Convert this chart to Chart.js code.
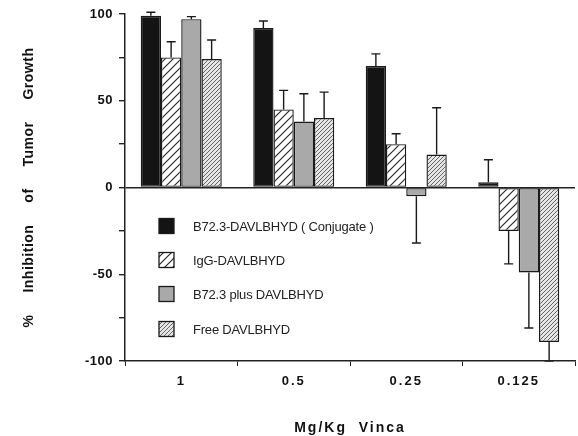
<!DOCTYPE html>
<html>
<head>
<meta charset="utf-8">
<script src="https://cdn.jsdelivr.net/npm/chart.js@4/dist/chart.umd.min.js"></script>
<style>
  html, body { margin: 0; padding: 0; background: #fff; }
  #wrap { width: 578px; height: 436px; }
</style>
</head>
<body>
<div id="wrap"><canvas id="vinca"></canvas></div>
<script>
// doses (Mg/Kg Vinca)
var doses = ["1", "0.5", "0.25", "0.125"];

var seriesNames = ["B72.3-DAVLBHYD ( Conjugate )", "IgG-DAVLBHYD", "B72.3 plus DAVLBHYD", "Free DAVLBHYD"];

// % inhibition of tumor growth
var conjugate    = [99, 92, 70, 3];
var conjugateErr = [2, 4, 7, 13];
var igg          = [75, 45, 25, -25];
var iggErr       = [9, 11, 6, 19];
var mixture      = [97, 38, -5, -49];
var mixtureErr   = [1.5, 16, 27, 32];
var free         = [74, 40, 19, -89];
var freeErr      = [11, 15, 27, 11];

var yTicks = [-100, -50, 0, 50, 100];

function hatch(bg, fg, size, lw) {
    var c = document.createElement("canvas");
    c.width = size; c.height = size;
    var x = c.getContext("2d");
    x.fillStyle = bg;
    x.fillRect(0, 0, size, size);
    x.strokeStyle = fg;
    x.lineWidth = lw;
    x.beginPath();
    x.moveTo(-1, size + 1); x.lineTo(size + 1, -1);
    x.moveTo(-size / 2 - 1, size / 2 + 1); x.lineTo(size / 2 + 1, -size / 2 - 1);
    x.moveTo(size / 2 - 1, size * 1.5 + 1); x.lineTo(size * 1.5 + 1, size / 2 - 1);
    x.stroke();
    return x.createPattern(c, "repeat");
}

var fills = ["#141414", hatch("#ffffff", "#2a2a2a", 8, 1.2), "#a9a9a9", hatch("#e6e6e6", "#555555", 4, 0.9)];
var edge = "#1a1a1a";
var bold = "'Liberation Sans', Arial, sans-serif";

var errPlugin = {
    id: "errs",
    beforeDraw: function (chart) {
        // y axis text
        chart.ctx.letterSpacing = "0.5px";
    },
    afterDatasetsDraw: function (chart) {
        var ctx = chart.ctx;
        var y = chart.scales.y;
        ctx.save();
        ctx.strokeStyle = edge;
        ctx.lineWidth = 1.4;
        chart.data.datasets.forEach(function (ds, i) {
            var meta = chart.getDatasetMeta(i);
            meta.data.forEach(function (bar, j) {
                var v = ds.data[j];
                var e = ds.errors[j];
                var end = y.getPixelForValue(v >= 0 ? v + e : v - e);
                ctx.beginPath();
                ctx.moveTo(bar.x, bar.y);
                ctx.lineTo(bar.x, end);
                ctx.moveTo(bar.x - 4.5, end);
                ctx.lineTo(bar.x + 4.5, end);
                ctx.stroke();
            });
        });
        ctx.restore();
        // x axis labels and title (z: 1) are drawn after this, with wider spacing
        ctx.letterSpacing = "2px";
    },
    afterDraw: function (chart) {
        var ctx = chart.ctx;
        var rows = [226, 260, 294, 329];
        ctx.save();
        ctx.letterSpacing = "-0.2px";
        ctx.font = "13px 'Liberation Sans', Arial, sans-serif";
        ctx.textBaseline = "middle";
        chart.data.datasets.forEach(function (ds, i) {
            var cy = rows[i];
            ctx.fillStyle = ds.backgroundColor;
            ctx.fillRect(159, cy - 7.5, 15, 15);
            ctx.strokeStyle = edge;
            ctx.lineWidth = 1.3;
            ctx.strokeRect(159, cy - 7.5, 15, 15);
            ctx.fillStyle = "#222";
            ctx.fillText(ds.label, 193, cy + 1);
        });
        ctx.restore();
        ctx.letterSpacing = "0px";
    }
};

var sets = [conjugate, igg, mixture, free];
var errs = [conjugateErr, iggErr, mixtureErr, freeErr];

var datasets = sets.map(function (d, i) {
    return {
        label: seriesNames[i],
        data: d,
        errors: errs[i],
        backgroundColor: fills[i],
        borderColor: edge,
        borderWidth: 1.4,
        borderSkipped: false,
        categoryPercentage: 0.72,
        barPercentage: 1.0
    };
});

var config = {
    type: "bar",
    data: { labels: doses, datasets: datasets },
    options: {
        responsive: true,
        maintainAspectRatio: false,
        animation: false,
        layout: { padding: { top: 14, right: 3, left: 0, bottom: 0 } },
        plugins: {
            legend: { display: false },
            tooltip: { enabled: false }
        },
        scales: {
            x: {
                afterFit: function (s) { s.height = 75; },
                grid: { z: 1, drawOnChartArea: false, tickLength: 5, color: "#222", offset: true },
                border: { z: 1, color: "#222", width: 1.5 },
                ticks: {
                    z: 1,
                    color: "#111",
                    padding: 8,
                    font: { family: bold, size: 13, weight: "bold" }
                },
                title: {
                    display: true,
                    text: "Mg/Kg  Vinca",
                    color: "#111",
                    padding: { top: 0, bottom: -1 },
                    font: { family: bold, size: 14, weight: "bold" }
                }
            },
            y: {
                min: -100,
                max: 100,
                afterFit: function (s) { s.width = 125; },
                grid: {
                    drawOnChartArea: true,
                    tickLength: 6,
                    tickColor: "#222",
                    color: function (c) { return c.tick && c.tick.value === 0 ? "#222" : "rgba(0,0,0,0)"; },
                    lineWidth: 1.4
                },
                border: { color: "#222", width: 1.5 },
                ticks: {
                    stepSize: 25,
                    padding: 6,
                    color: "#111",
                    font: { family: bold, size: 13, weight: "bold" },
                    callback: function (v) { return yTicks.indexOf(v) >= 0 ? String(v) : ""; }
                },
                title: {
                    display: true,
                    text: "%     Inhibition     of     Tumor     Growth",
                    color: "#111",
                    padding: { top: 21, bottom: 0 },
                    font: { family: bold, size: 14, weight: "bold" }
                }
            }
        }
    },
    plugins: [errPlugin]
};

var barChart = new Chart(document.getElementById("vinca"), config);
</script>
</body>
</html>
